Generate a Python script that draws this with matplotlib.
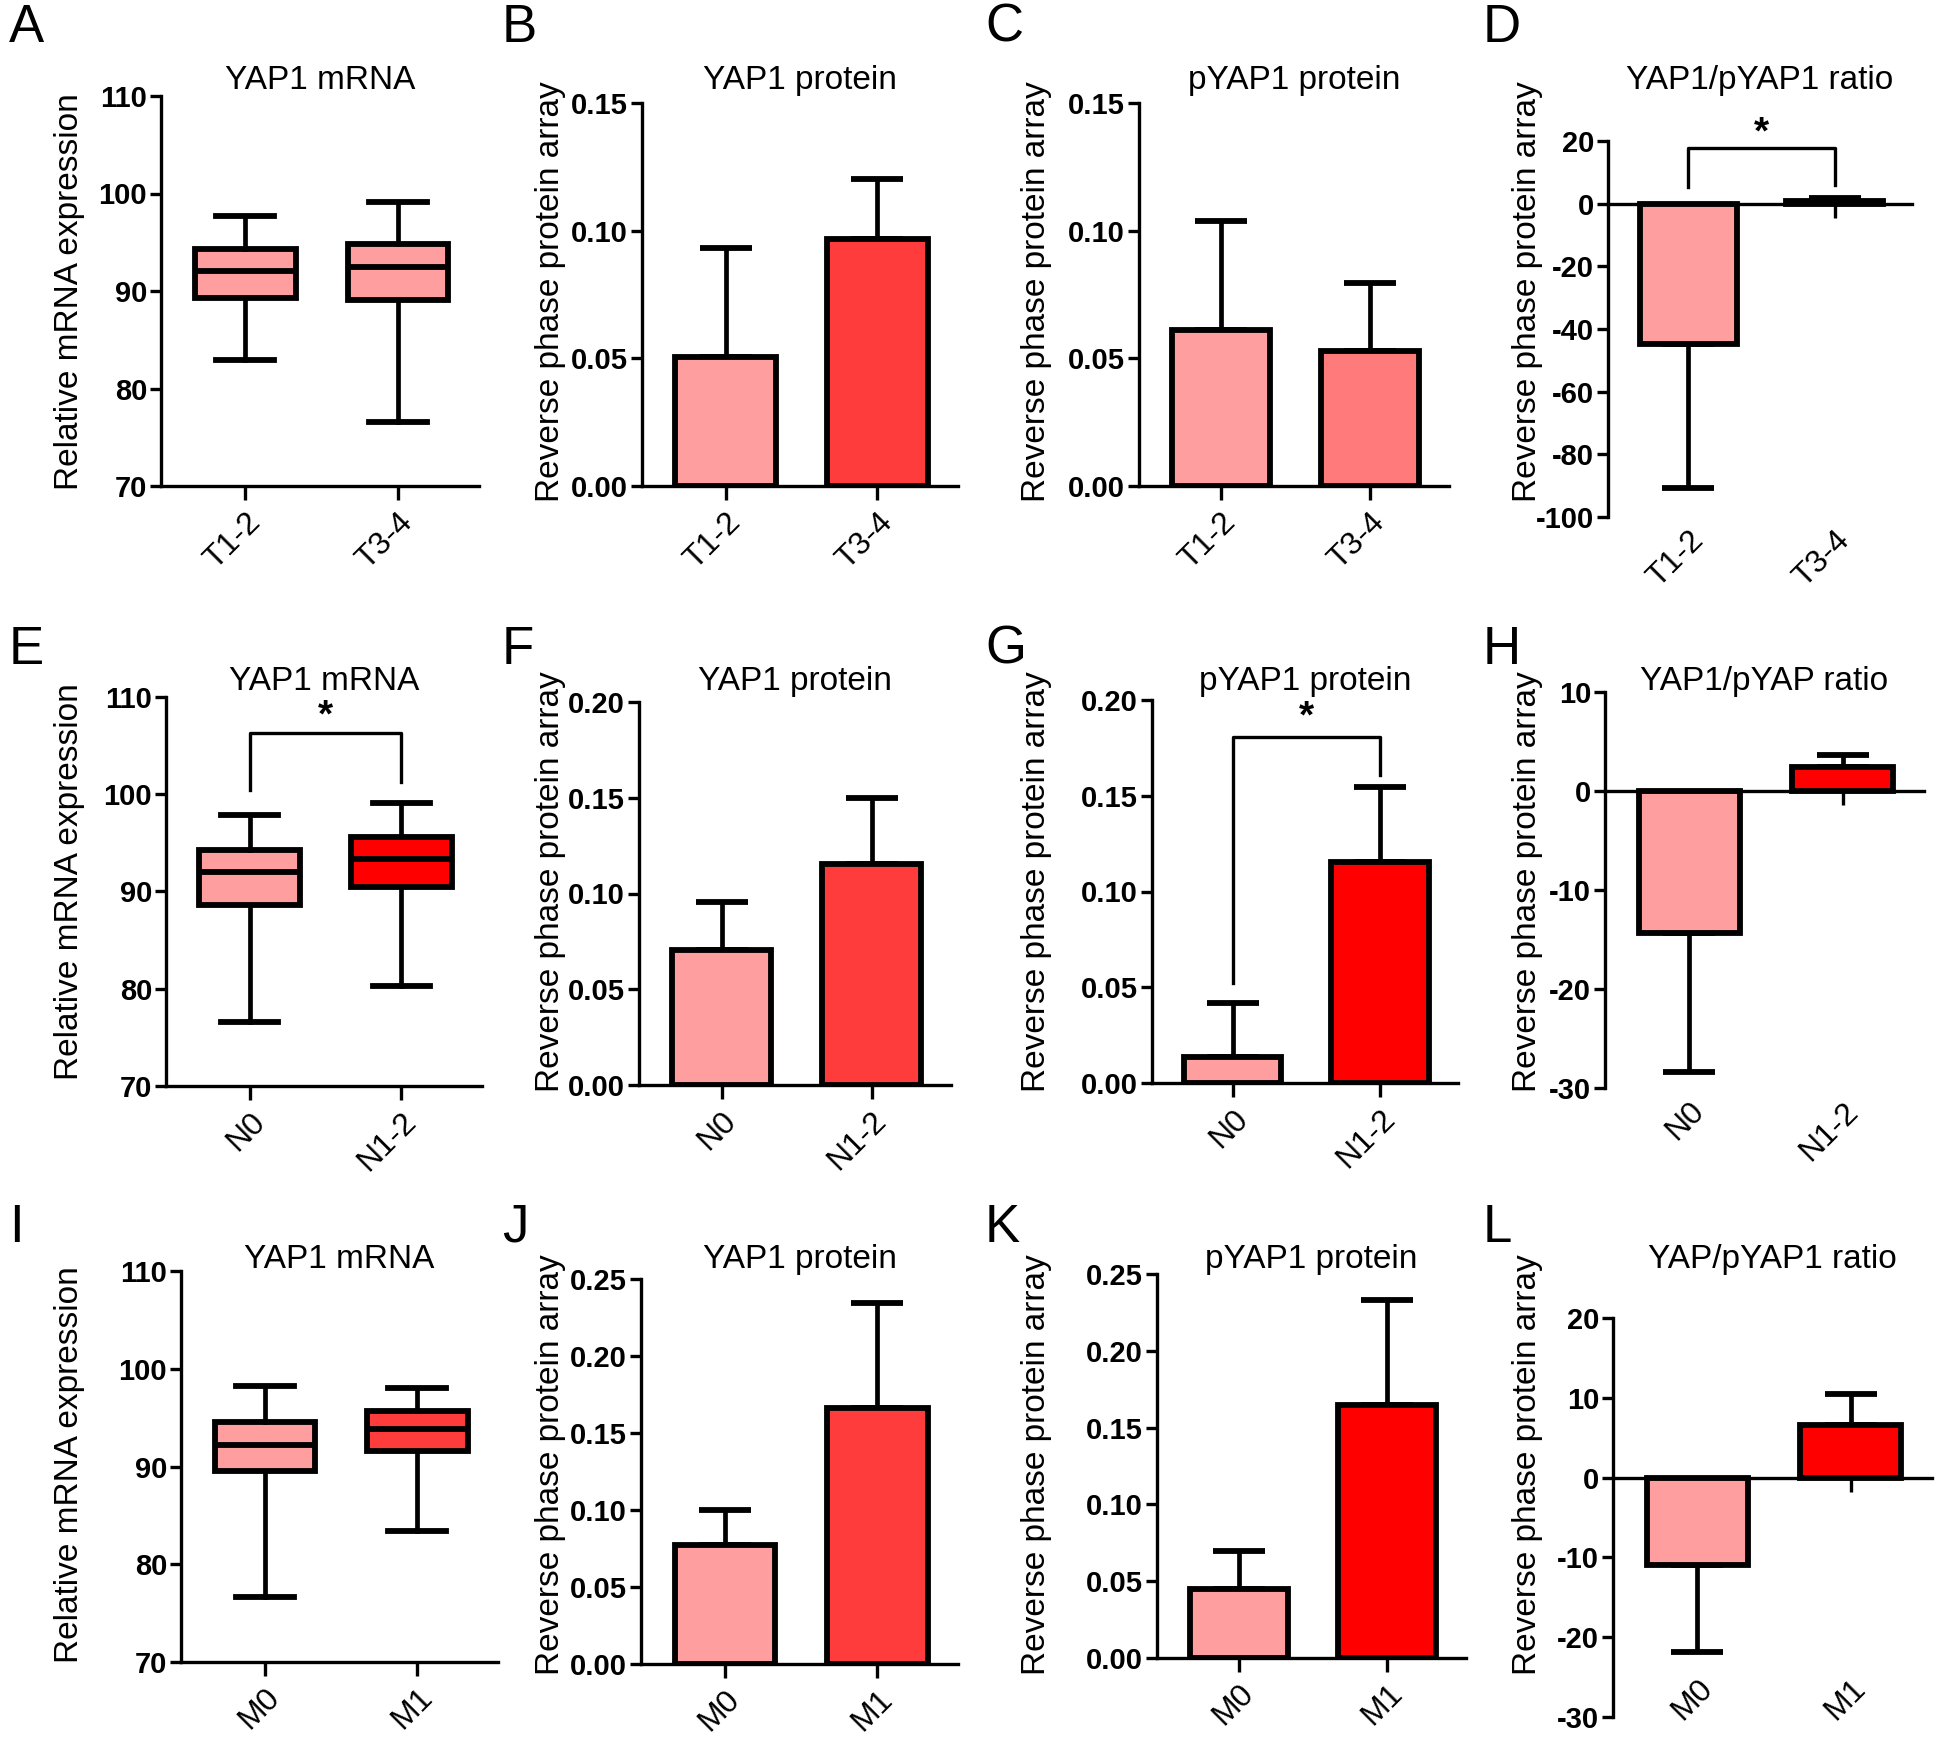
import numpy as np
import matplotlib
matplotlib.use('Agg')
import matplotlib.pyplot as plt

plt.rcParams['font.family'] = ['Liberation Sans', 'DejaVu Sans']
plt.rcParams['axes.unicode_minus'] = False

W, H = 1938, 1750

PINK = '#FF9E9E'
RED = '#FF3C3C'
PURE = '#FF0000'
SALMON = '#FF7B7B'

# categories
t_groups = ['T1-2', 'T3-4']
n_groups = ['N0', 'N1-2']
m_groups = ['M0', 'M1']

# box plots: whisker low, q1, median, q3, whisker high
a_low = [82.9, 76.6]
a_q1 = [89.3, 89.1]
a_med = [92.1, 92.5]
a_q3 = [94.3, 94.8]
a_high = [97.7, 99.1]

e_low = [76.6, 80.3]
e_q1 = [88.6, 90.5]
e_med = [92.0, 93.3]
e_q3 = [94.3, 95.6]
e_high = [97.9, 99.1]
e_bracket = [100.4, 106.3, 101.3]
e_star = 108.0

i_low = [76.7, 83.4]
i_q1 = [89.5, 91.6]
i_med = [92.2, 93.8]
i_q3 = [94.6, 95.7]
i_high = [98.2, 98.0]

# bar charts: mean and the end of the error bar
b_mean = [0.0505, 0.0967]
b_end = [0.0932, 0.1202]
c_mean = [0.0611, 0.0527]
c_end = [0.1039, 0.0794]
d_mean = [-44.7, 0.8]
d_end = [-90.9, 1.7]
d_bracket = [5.2, 17.8, 5.8]
d_star = 22.5

f_mean = [0.0704, 0.1152]
f_end = [0.0955, 0.1501]
g_mean = [0.0137, 0.1156]
g_end = [0.0418, 0.1547]
g_bracket = [0.052, 0.1807, 0.161]
g_star = 0.191
h_mean = [-14.3, 2.4]
h_end = [-28.4, 3.6]

j_mean = [0.077, 0.1663]
j_end = [0.100, 0.2344]
k_mean = [0.045, 0.165]
k_end = [0.0694, 0.2333]
l_mean = [-11.0, 6.6]
l_end = [-21.9, 10.5]

mrna_ticks = [70, 80, 90, 100, 110]

fig = plt.figure(figsize=(W / 100, H / 100), dpi=100)

# axes rectangles in pixels: left, top, right, bottom
rects = {
    'A': (161, 96, 479, 486), 'B': (642, 103, 958, 486),
    'C': (1139, 103, 1449, 486), 'D': (1608, 141, 1912, 517),
    'E': (166, 697, 482, 1086), 'F': (639, 702, 951, 1085),
    'G': (1152, 700, 1458, 1083), 'H': (1605, 692, 1924, 1088),
    'I': (181, 1271, 498, 1662), 'J': (641, 1279, 958, 1664),
    'K': (1157, 1274, 1466, 1658), 'L': (1613, 1318, 1932, 1717),
}
letter_x = [9, 502, 985, 1483]
letter_top = [12, 634, 1212]
title_base = [89, 690, 1268]
ylabel_right = [85, 566, 1052, 1543]
ylabel_mid = [292, 882, 1465]

XLIM = (-0.55, 1.53)
BW = 0.66
EDGE = 4.2


def make_axes(key, row, col, title, ylabel):
    l, t, r, b = rects[key]
    ax = fig.add_axes([l / W, 1 - b / H, (r - l) / W, (b - t) / H])
    for s in ['top', 'right']:
        ax.spines[s].set_visible(False)
    for s in ['left', 'bottom']:
        ax.spines[s].set_linewidth(2.4)
    ax.tick_params(axis='y', direction='out', length=8, width=2.4, pad=2)
    ax.tick_params(axis='x', direction='out', length=10, width=2.4, pad=5)
    ax.set_xlim(*XLIM)
    ax.set_ylabel(ylabel, fontsize=24)
    ax.yaxis.set_label_coords(ylabel_right[col] / W, 1 - ylabel_mid[row] / H,
                              transform=fig.transFigure)
    fig.text((l + r) / 2 / W, 1 - title_base[row] / H, title, fontsize=24,
             ha='center', va='baseline')
    fig.text(letter_x[col] / W, 1 - (letter_top[row] - 9) / H, key, fontsize=38,
             ha='left', va='top')
    return ax


def set_xlabels(ax, groups):
    ax.set_xticks(range(len(groups)), groups, fontsize=23, rotation=45,
                  ha='right', va='top', rotation_mode='anchor')


def set_yticks(ax, ticks, fmt):
    ax.set_yticks(ticks, [fmt % v for v in ticks], fontweight='bold', fontsize=21)
    ax.set_ylim(ticks[0], ticks[-1])


def box_panel(ax, groups, low, q1, med, q3, high, colors):
    stats = [dict(whislo=lo, q1=a, med=m, q3=c, whishi=hi, label=g)
             for g, lo, a, m, c, hi in zip(groups, low, q1, med, q3, high)]
    bp = ax.bxp(stats, positions=range(len(groups)), widths=BW, patch_artist=True,
                showfliers=False, capwidths=0.38,
                boxprops=dict(linewidth=EDGE, edgecolor='k'),
                medianprops=dict(color='k', linewidth=EDGE),
                whiskerprops=dict(color='k', linewidth=3.4),
                capprops=dict(color='k', linewidth=EDGE))
    for patch, c in zip(bp['boxes'], colors):
        patch.set_facecolor(c)
    ax.set_xlim(*XLIM)
    set_xlabels(ax, groups)
    set_yticks(ax, mrna_ticks, '%d')


def bar_panel(ax, groups, mean, end, colors):
    x = np.arange(len(groups))
    mean = np.array(mean)
    end = np.array(end)
    lower = np.where(mean < 0, mean - end, 0)
    upper = np.where(mean >= 0, end - mean, 0)
    ax.errorbar(x, mean, yerr=[lower, upper], fmt='none', ecolor='k',
                elinewidth=3.4, capsize=19, capthick=EDGE, zorder=1, clip_on=False)
    ax.bar(x, mean, width=BW, color=colors, edgecolor='k', linewidth=EDGE, zorder=2)


def bracket(ax, levels, star):
    ax.plot([0, 0, 1, 1], [levels[0], levels[1], levels[1], levels[2]],
            color='k', lw=2.4, clip_on=False)
    ax.text(0.5, star, '*', ha='center', va='center', fontsize=28, fontweight='bold')


def ratio_axis(ax, groups, loc=0.0):
    ax.spines['bottom'].set_position(('data', 0))
    ax.set_xticks(range(len(groups)))
    ax.tick_params(axis='x', labelbottom=False, length=10, width=2.4)
    sec = ax.secondary_xaxis(loc)
    sec.spines['bottom'].set_visible(False)
    sec.tick_params(length=0, pad=6)
    set_xlabels(sec, groups)


RP = 'Reverse phase protein array'
MR = 'Relative mRNA expression'

# row 1
ax = make_axes('A', 0, 0, 'YAP1 mRNA', MR)
box_panel(ax, t_groups, a_low, a_q1, a_med, a_q3, a_high, [PINK, PINK])

ax = make_axes('B', 0, 1, 'YAP1 protein', RP)
bar_panel(ax, t_groups, b_mean, b_end, [PINK, RED])
set_xlabels(ax, t_groups)
set_yticks(ax, [0, 0.05, 0.10, 0.15], '%.2f')

ax = make_axes('C', 0, 2, 'pYAP1 protein', RP)
bar_panel(ax, t_groups, c_mean, c_end, [PINK, SALMON])
set_xlabels(ax, t_groups)
set_yticks(ax, [0, 0.05, 0.10, 0.15], '%.2f')

ax = make_axes('D', 0, 3, 'YAP1/pYAP1 ratio', RP)
bar_panel(ax, t_groups, d_mean, d_end, [PINK, PINK])
set_yticks(ax, [-100, -80, -60, -40, -20, 0, 20], '%d')
ratio_axis(ax, t_groups)
bracket(ax, d_bracket, d_star)

# row 2
ax = make_axes('E', 1, 0, 'YAP1 mRNA', MR)
box_panel(ax, n_groups, e_low, e_q1, e_med, e_q3, e_high, [PINK, PURE])
bracket(ax, e_bracket, e_star)

ax = make_axes('F', 1, 1, 'YAP1 protein', RP)
bar_panel(ax, n_groups, f_mean, f_end, [PINK, RED])
set_xlabels(ax, n_groups)
set_yticks(ax, [0, 0.05, 0.10, 0.15, 0.20], '%.2f')

ax = make_axes('G', 1, 2, 'pYAP1 protein', RP)
bar_panel(ax, n_groups, g_mean, g_end, [PINK, PURE])
set_xlabels(ax, n_groups)
set_yticks(ax, [0, 0.05, 0.10, 0.15, 0.20], '%.2f')
bracket(ax, g_bracket, g_star)

ax = make_axes('H', 1, 3, 'YAP1/pYAP ratio', RP)
bar_panel(ax, n_groups, h_mean, h_end, [PINK, PURE])
set_yticks(ax, [-30, -20, -10, 0, 10], '%d')
ratio_axis(ax, n_groups)

# row 3
ax = make_axes('I', 2, 0, 'YAP1 mRNA', MR)
box_panel(ax, m_groups, i_low, i_q1, i_med, i_q3, i_high, [PINK, RED])

ax = make_axes('J', 2, 1, 'YAP1 protein', RP)
bar_panel(ax, m_groups, j_mean, j_end, [PINK, RED])
set_xlabels(ax, m_groups)
set_yticks(ax, [0, 0.05, 0.10, 0.15, 0.20, 0.25], '%.2f')

ax = make_axes('K', 2, 2, 'pYAP1 protein', RP)
bar_panel(ax, m_groups, k_mean, k_end, [PINK, PURE])
set_xlabels(ax, m_groups)
set_yticks(ax, [0, 0.05, 0.10, 0.15, 0.20, 0.25], '%.2f')

ax = make_axes('L', 2, 3, 'YAP/pYAP1 ratio', RP)
bar_panel(ax, m_groups, l_mean, l_end, [PINK, PURE])
set_yticks(ax, [-30, -20, -10, 0, 10, 20], '%d')
ratio_axis(ax, m_groups, loc=0.13)

fig.savefig('out.png', dpi=100)
